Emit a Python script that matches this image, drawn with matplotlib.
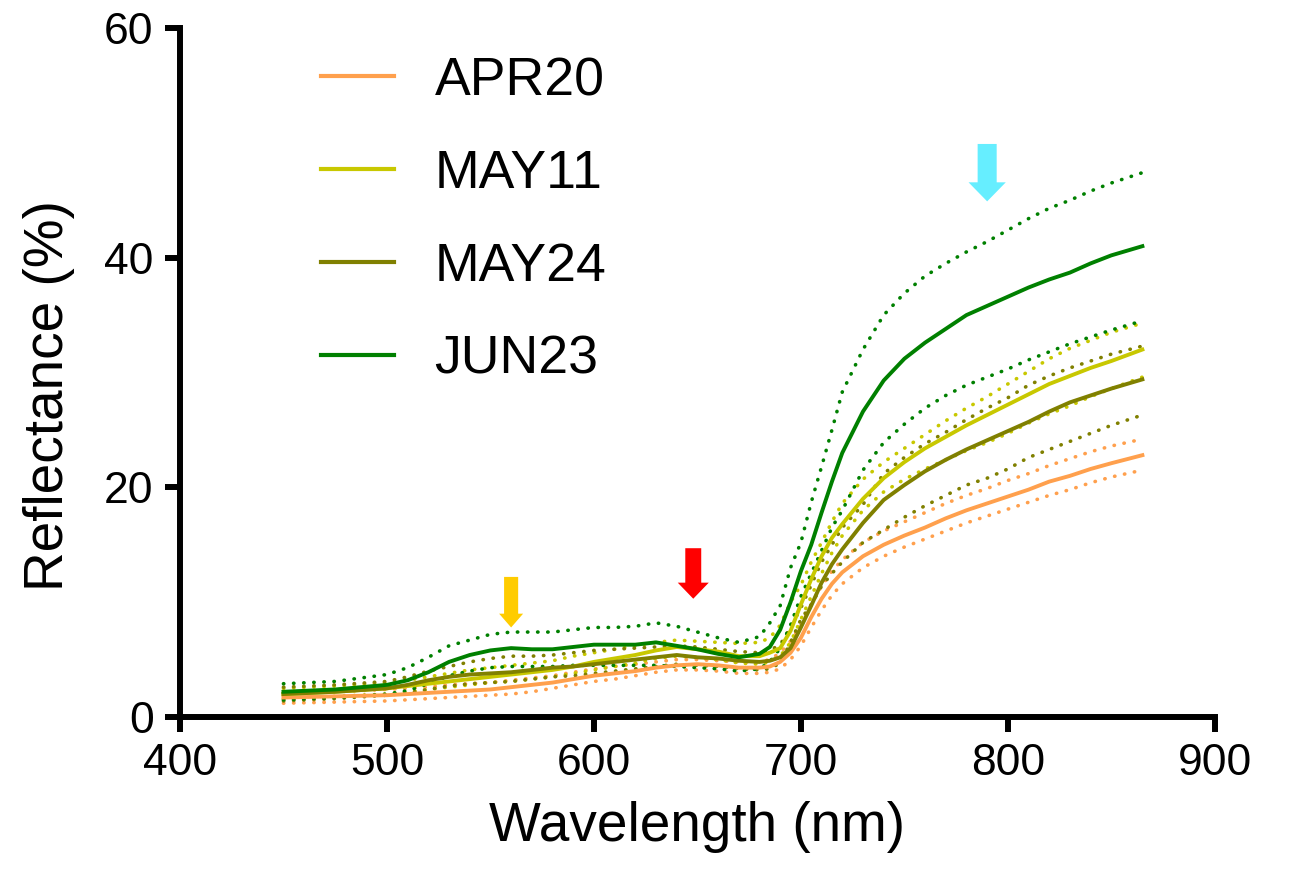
import numpy as np
import matplotlib.pyplot as plt

plt.rcParams['font.family'] = ['Liberation Sans', 'DejaVu Sans']

# wavelengths (nm)
wl = [450, 475, 500, 510, 520, 530, 540, 550, 560, 570, 580, 590, 600, 610, 620,
      630, 640, 650, 660, 670, 680, 685, 690, 695, 700, 705, 710, 715, 720, 730,
      740, 750, 760, 770, 780, 790, 800, 810, 820, 830, 840, 850, 865]

# mean reflectance (%) per date
apr20 = [1.7, 1.8, 1.9, 2.0, 2.1, 2.2, 2.3, 2.4, 2.6, 2.8, 3.0, 3.3, 3.6, 3.8, 4.0,
         4.3, 4.5, 4.6, 4.5, 4.3, 4.3, 4.4, 4.8, 5.6, 6.9, 8.7, 10.3, 11.6, 12.6, 14.0,
         15.0, 15.8, 16.5, 17.3, 18.0, 18.6, 19.2, 19.8, 20.5, 21.0, 21.6, 22.1, 22.8]
may11 = [2.0, 2.2, 2.5, 2.7, 2.9, 3.1, 3.3, 3.5, 3.7, 3.9, 4.1, 4.4, 4.8, 5.1, 5.4,
         5.8, 6.1, 5.9, 5.7, 5.3, 5.3, 5.6, 6.0, 7.5, 9.8, 12.0, 14.0, 15.6, 16.8, 19.0,
         20.8, 22.2, 23.4, 24.4, 25.4, 26.3, 27.2, 28.1, 29.0, 29.7, 30.4, 31.0, 32.0]
may24 = [2.0, 2.2, 2.5, 2.8, 3.2, 3.5, 3.7, 3.8, 3.9, 4.1, 4.3, 4.4, 4.6, 4.8, 5.0,
         5.2, 5.4, 5.2, 5.1, 4.9, 4.8, 4.9, 5.2, 6.0, 7.8, 9.7, 11.7, 13.3, 14.6, 16.9,
         18.9, 20.2, 21.4, 22.4, 23.3, 24.1, 24.9, 25.7, 26.6, 27.4, 28.0, 28.6, 29.4]
jun23 = [2.2, 2.4, 2.8, 3.2, 3.9, 4.8, 5.4, 5.8, 6.0, 5.9, 5.9, 6.1, 6.3, 6.3, 6.3,
         6.5, 6.2, 5.9, 5.5, 5.2, 5.5, 6.1, 7.6, 10.0, 12.7, 15.0, 17.8, 20.5, 23.0, 26.6,
         29.3, 31.2, 32.6, 33.8, 35.0, 35.8, 36.6, 37.4, 38.1, 38.7, 39.5, 40.2, 41.0]

# upper / lower dotted bounds
apr20_hi = [2.1, 2.2, 2.4, 2.5, 2.6, 2.8, 2.9, 3.0, 3.2, 3.4, 3.6, 3.9, 4.2, 4.4, 4.6,
            4.8, 5.0, 5.0, 4.9, 4.8, 4.8, 5.0, 5.6, 6.6, 8.0, 9.8, 11.4, 12.7, 13.7, 15.2,
            16.2, 17.0, 17.8, 18.6, 19.3, 19.9, 20.6, 21.2, 21.9, 22.5, 23.1, 23.6, 24.2]
apr20_lo = [1.2, 1.3, 1.4, 1.5, 1.6, 1.7, 1.8, 1.9, 2.0, 2.2, 2.5, 2.8, 3.1, 3.3, 3.6,
            3.9, 4.1, 4.1, 4.0, 3.8, 3.8, 3.9, 4.2, 5.0, 6.2, 7.8, 9.3, 10.6, 11.6, 13.0,
            14.0, 14.8, 15.5, 16.2, 16.9, 17.5, 18.1, 18.7, 19.3, 19.8, 20.4, 20.9, 21.5]
may11_hi = [2.5, 2.7, 3.0, 3.2, 3.5, 3.8, 4.1, 4.3, 4.5, 4.7, 4.9, 5.3, 5.6, 5.9, 6.2,
            6.5, 6.7, 6.6, 6.5, 6.4, 6.5, 6.9, 8.0, 10.0, 11.5, 13.5, 15.2, 17.0, 18.6, 20.7,
            22.2, 23.4, 24.6, 25.8, 26.9, 27.9, 29.0, 30.1, 31.2, 32.1, 32.8, 33.5, 34.3]
may11_lo = [1.6, 1.8, 2.0, 2.2, 2.4, 2.6, 2.8, 3.0, 3.1, 3.3, 3.5, 3.8, 4.1, 4.4, 4.7,
            5.1, 5.3, 5.2, 5.0, 4.7, 4.6, 4.8, 5.3, 6.5, 8.5, 10.5, 12.5, 14.3, 15.8, 18.0,
            19.6, 20.7, 21.6, 22.4, 23.2, 23.9, 24.7, 25.6, 26.4, 27.1, 27.9, 28.6, 29.6]
may24_hi = [2.6, 2.8, 3.1, 3.5, 4.0, 4.4, 4.8, 5.1, 5.3, 5.3, 5.4, 5.6, 5.8, 5.9, 6.0,
            6.1, 6.2, 6.1, 5.9, 5.7, 5.6, 5.8, 6.3, 7.8, 9.5, 11.5, 13.5, 15.0, 16.5, 18.5,
            21.2, 22.6, 23.8, 24.8, 25.9, 26.9, 27.8, 28.9, 29.7, 30.4, 31.0, 31.6, 32.3]
may24_lo = [1.4, 1.6, 1.9, 2.1, 2.4, 2.7, 2.9, 3.0, 3.1, 3.3, 3.5, 3.6, 3.8, 4.0, 4.2,
            4.4, 4.6, 4.5, 4.4, 4.2, 4.1, 4.2, 4.7, 6.5, 8.5, 9.8, 11.4, 12.5, 13.5, 15.2,
            16.3, 17.4, 18.4, 19.3, 20.2, 20.8, 21.6, 22.6, 23.3, 24.0, 24.7, 25.4, 26.3]
jun23_hi = [2.9, 3.1, 3.7, 4.3, 5.2, 6.2, 6.7, 7.2, 7.4, 7.4, 7.4, 7.6, 7.8, 7.8, 7.9,
            8.2, 7.9, 7.4, 6.9, 6.5, 7.0, 8.2, 9.7, 13.0, 15.2, 18.7, 21.8, 25.0, 28.3, 32.0,
            35.0, 36.9, 38.4, 39.5, 40.5, 41.4, 42.4, 43.4, 44.3, 45.0, 45.8, 46.5, 47.4]
jun23_lo = [1.5, 1.7, 2.0, 2.3, 2.9, 3.6, 4.0, 4.3, 4.4, 4.4, 4.4, 4.5, 4.5, 4.5, 4.5,
            4.5, 4.4, 4.3, 4.2, 4.0, 4.2, 4.8, 6.0, 8.0, 10.5, 12.5, 14.5, 16.5, 18.0, 21.5,
            23.9, 25.5, 26.9, 28.0, 28.9, 29.6, 30.3, 31.1, 31.8, 32.5, 33.1, 33.7, 34.5]

labels = ['APR20', 'MAY11', 'MAY24', 'JUN23']
colors = ['#FFA04D', '#C8C800', '#808000', '#008000']
means = [apr20, may11, may24, jun23]
highs = [apr20_hi, may11_hi, may24_hi, jun23_hi]
lows = [apr20_lo, may11_lo, may24_lo, jun23_lo]

# arrows: x position, top, tip, colour
arrow_x = [560, 648, 790]
arrow_top = [12.2, 14.7, 49.9]
arrow_tip = [7.8, 10.3, 44.9]
arrow_col = ['#FFCC00', '#FF0000', '#66EEFF']

fig = plt.figure(figsize=(12.91, 8.85), dpi=100)
ax = fig.add_axes([0.1394, 0.1898, 0.8016, 0.7786])

for m, hi, lo, c, lab in zip(means, highs, lows, colors, labels):
    ax.plot(wl, hi, color=c, lw=2.6, linestyle=(0, (0.1, 2.7)), dash_capstyle='round')
    ax.plot(wl, lo, color=c, lw=2.6, linestyle=(0, (0.1, 2.7)), dash_capstyle='round')
for m, c, lab in zip(means, colors, labels):
    ax.plot(wl, m, color=c, lw=2.8, label=lab)

# arrow sizes (shaft width, head width in nm; head length in %)
sizes = [(6.8, 11.6, 1.2), (7.7, 15.0, 1.4), (9.2, 18.0, 1.66)]
for x, top, tip, c, (w, hw, hl) in zip(arrow_x, arrow_top, arrow_tip, arrow_col, sizes):
    ax.arrow(x, top, 0, tip - top, width=w, head_width=hw, head_length=hl,
             length_includes_head=True, color=c, lw=0, zorder=5)

ax.set_xlim(400, 900)
ax.set_ylim(0, 60)
ax.set_xticks([400, 500, 600, 700, 800, 900])
ax.set_yticks([0, 20, 40, 60])
ax.spines['top'].set_visible(False)
ax.spines['right'].set_visible(False)
for s in ['left', 'bottom']:
    ax.spines[s].set_linewidth(4.3)
ax.tick_params(width=4.3, length=11, labelsize=32, pad=8)
ax.set_xlabel('Wavelength (nm)', fontsize=39.5, labelpad=12)
ax.set_ylabel('Reflectance (%)', fontsize=39.5)
ax.yaxis.set_label_coords(-0.101, 0.467)

leg = ax.legend(loc='upper left', bbox_to_anchor=(0.09, 1.029), frameon=False,
                fontsize=38.6, handlelength=1.36, handletextpad=0.75,
                labelspacing=0.8)
for h in leg.get_lines():
    h.set_linewidth(3)

fig.savefig('out.png', dpi=100)
